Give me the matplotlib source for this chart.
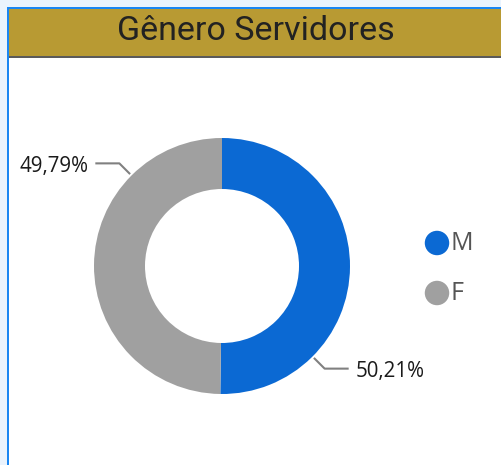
import numpy as np
import matplotlib
matplotlib.use("Agg")
import matplotlib.pyplot as plt
from matplotlib.patches import Rectangle

# data
categories = ["M", "F"]
shares = [50.21, 49.79]
labels = ["50,21%", "49,79%"]
colors = ["#0b69d3", "#a0a0a0"]
title = "Gênero Servidores"

W, H = 501, 465
fig = plt.figure(figsize=(W / 100, H / 100), dpi=100)
fig.patch.set_facecolor("#eaf3fd")
ax = fig.add_axes([0, 0, 1, 1])

# white card with blue border and gold header
ax.add_patch(Rectangle((7, 0), W - 7, H - 7, facecolor="white", edgecolor="none", zorder=0))
ax.add_patch(Rectangle((7, 0), 2, H - 7, facecolor="#1a86f2", edgecolor="none", zorder=1))
ax.add_patch(Rectangle((7, H - 9), W - 7, 2, facecolor="#1a86f2", edgecolor="none", zorder=1))
ax.add_patch(Rectangle((9, H - 56), W - 9, 47, facecolor="#b89a33", edgecolor="none", zorder=1))
ax.add_patch(Rectangle((9, H - 58), W - 9, 2, facecolor="#5a5a5a", edgecolor="none", zorder=1))
ax.text(256, H - 31, title, ha="center", va="center", fontsize=24.5,
        family="Roboto", fontweight="normal", color="#222222", zorder=2)

# donut
cx, cy, r_out, r_in = 222, H - 266, 128, 77
wedges, _ = ax.pie(shares, colors=colors, startangle=90, counterclock=False,
                   radius=r_out, center=(cx, cy),
                   wedgeprops=dict(width=r_out - r_in, edgecolor="none"))

# leader lines + labels
for ang, lab, side in [(-45, labels[0], 1), (135, labels[1], -1)]:
    a = np.deg2rad(ang)
    x0 = cx + 131 * np.cos(a)
    y0 = cy + 131 * np.sin(a)
    x1 = x0 + side * 10
    y1 = y0 + (10 if side < 0 else -10)
    x2 = x1 + side * 23
    ax.plot([x0, x1, x2], [y0, y1, y1], color="#808080", lw=1.5, zorder=3)
    ax.text(x2 + side * 8, y1 - 3, lab, ha="left" if side > 0 else "right",
            va="center", fontsize=14.8, family="Open Sans", color="#1a1a1a")

# legend
for i, cat in enumerate(categories):
    ly = H - 243 - i * 50
    ax.scatter([437], [ly], s=310, color=colors[i], edgecolors="none", zorder=3)
    ax.text(451, ly - 1, cat, ha="left", va="center", fontsize=18,
            family="Open Sans", color="#555555")

ax.set_xlim(0, W)
ax.set_ylim(0, H)
ax.set_aspect("auto")
ax.axis("off")

fig.savefig("out.png", dpi=100)
